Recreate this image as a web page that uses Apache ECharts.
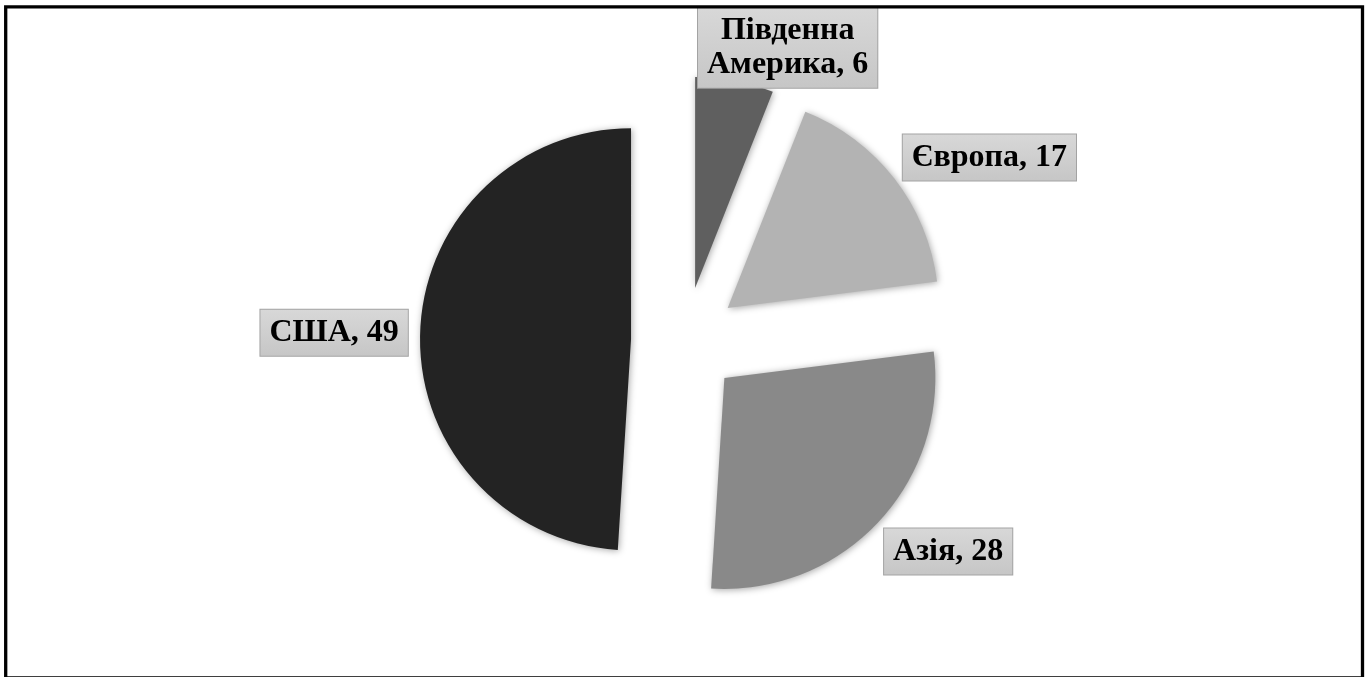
<!DOCTYPE html>
<html>
<head>
<meta charset="utf-8">
<script src="https://cdn.jsdelivr.net/npm/echarts@6/dist/echarts.min.js"></script>
<style>
  html, body { margin: 0; padding: 0; background: #ffffff; }
  #chart { width: 1370px; height: 677px; }
</style>
</head>
<body>
<div id="chart"></div>
<script>
// Regions and their shares
const categories = ['Південна Америка', 'Європа', 'Азія', 'США'];
const values = [6, 17, 28, 49];
const sliceColors = ['#5f5f5f', '#b3b3b3', '#898989', '#232323'];

// Shift of each centred label box from its default outside anchor
const labelShift = [[48, -33], [90, -21], [65, 29], [-81, 0]];

const chart = echarts.init(document.getElementById('chart'), null, { renderer: 'canvas' });

const data = categories.map((name, i) => ({
  name: name,
  value: values[i],
  selected: true,
  itemStyle: { color: sliceColors[i] }
}));

chart.setOption({
  animation: false,
  backgroundColor: '#ffffff',
  graphic: [{
    type: 'rect',
    shape: { x: 5.7, y: 6.8, width: 1356.8, height: 671.2 },
    style: { fill: 'none', stroke: '#000000', lineWidth: 3.3 },
    silent: true,
    z: 100
  }],
  series: [{
    type: 'pie',
    center: [685, 341],
    radius: 211,
    startAngle: 90,
    clockwise: true,
    selectedMode: 'multiple',
    selectedOffset: 54,
    avoidLabelOverlap: false,
    emphasis: { disabled: true },
    select: { itemStyle: { borderWidth: 0 } },
    itemStyle: {
      borderWidth: 0,
      shadowBlur: 7,
      shadowColor: 'rgba(0,0,0,0.35)',
      shadowOffsetX: 1,
      shadowOffsetY: 1
    },
    label: {
      show: true,
      position: 'outside',
      formatter: p => p.name.replace(' ', '\n') + ', ' + p.value,
      fontFamily: '"Liberation Serif", "Times New Roman", serif',
      fontWeight: 'bold',
      fontSize: 32,
      lineHeight: 34,
      color: '#000000',
      padding: [6, 9, 6, 9],
      borderColor: '#a3a3a3',
      borderWidth: 1,
      backgroundColor: {
        type: 'linear', x: 0, y: 0, x2: 0, y2: 1,
        colorStops: [
          { offset: 0, color: '#d8d8d8' },
          { offset: 1, color: '#c6c6c6' }
        ]
      }
    },
    labelLine: { show: false, length: 0, length2: 0 },
    labelLayout: p => ({
      align: 'center',
      verticalAlign: 'middle',
      dx: labelShift[p.dataIndex][0],
      dy: labelShift[p.dataIndex][1]
    }),
    data: data
  }]
});
</script>
</body>
</html>
